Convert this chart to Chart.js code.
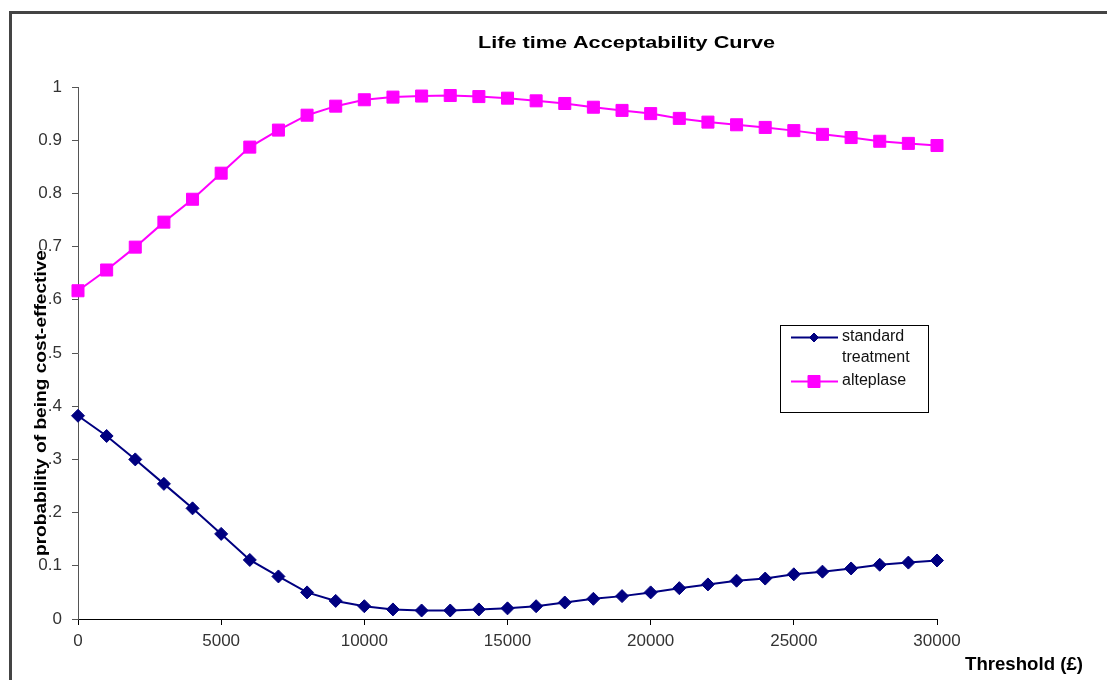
<!DOCTYPE html>
<html>
<head>
    <title>Life time Acceptability Curve</title>
    <meta http-equiv="content-type" content="text/html; charset=UTF-8"/>
    <script src="https://cdn.jsdelivr.net/npm/chart.js"></script>
    <style>
        html, body {
            margin: 0;
            padding: 0;
            background: #ffffff;
        }
        #canvas {
            display: block;
        }
    </style>
</head>
<body>
<canvas id="canvas" width="1107" height="680"></canvas>
<script>
    // values
    var thresholds = [0, 1000, 2000, 3000, 4000, 5000, 6000, 7000, 8000, 9000, 10000,
        11000, 12000, 13000, 14000, 15000, 16000, 17000, 18000, 19000, 20000,
        21000, 22000, 23000, 24000, 25000, 26000, 27000, 28000, 29000, 30000];
    var standardTreatment = [0.382, 0.344, 0.300, 0.254, 0.208, 0.160, 0.111, 0.080, 0.050, 0.034, 0.024,
        0.018, 0.016, 0.016, 0.018, 0.020, 0.024, 0.031, 0.038, 0.043, 0.050,
        0.058, 0.065, 0.072, 0.076, 0.084, 0.089, 0.095, 0.102, 0.106, 0.110];
    var alteplase = [0.617, 0.656, 0.699, 0.746, 0.789, 0.838, 0.887, 0.919, 0.947, 0.964, 0.976,
        0.981, 0.983, 0.984, 0.982, 0.979, 0.974, 0.969, 0.962, 0.956, 0.950,
        0.941, 0.934, 0.929, 0.924, 0.918, 0.911, 0.905, 0.898, 0.894, 0.890];
    var seriesNames = ['standard treatment', 'alteplase'];
    var chartTitle = 'Life time Acceptability Curve';
    var xTitle = 'Threshold (£)';
    var yTitle = 'probability of being cost-effective';

    function toPoints(values) {
        var pts = [];
        for (var i = 0; i < thresholds.length; i++) {
            pts.push({ x: thresholds[i], y: values[i] });
        }
        return pts;
    }

    // text squeezed/stretched along its length to fit the width seen in the picture
    function fitText(ctx, text, font, x, y, width, align) {
        ctx.save();
        ctx.font = font;
        var w = ctx.measureText(text).width;
        var s = width / w;
        ctx.translate(x, y);
        ctx.scale(s, 1);
        ctx.textAlign = align;
        ctx.textBaseline = 'alphabetic';
        ctx.fillText(text, 0, 0);
        ctx.restore();
    }

    var decorPlugin = {
        id: 'decor',
        beforeDraw: function(chart) {
            var ctx = chart.ctx;
            ctx.save();
            ctx.fillStyle = '#ffffff';
            ctx.fillRect(0, 0, chart.width, chart.height);
            ctx.restore();
        },
        afterDraw: function(chart) {
            var ctx = chart.ctx;
            ctx.save();

            // outer frame (only top and left visible)
            ctx.strokeStyle = '#444444';
            ctx.lineWidth = 3;
            ctx.beginPath();
            ctx.moveTo(10.5, 680);
            ctx.lineTo(10.5, 12.5);
            ctx.lineTo(1107, 12.5);
            ctx.stroke();

            ctx.fillStyle = '#000000';
            fitText(ctx, chartTitle, 'bold 17px "Liberation Sans", Arial, sans-serif', 626.5, 48, 297, 'center');
            fitText(ctx, xTitle, 'bold 18px "Liberation Sans", Arial, sans-serif', 965, 670, 118, 'left');

            // y title with white box over the tick labels
            ctx.fillStyle = '#ffffff';
            ctx.fillRect(32, 250, 17, 306);
            ctx.save();
            ctx.translate(46, 403);
            ctx.rotate(-Math.PI / 2);
            ctx.fillStyle = '#000000';
            fitText(ctx, yTitle, 'bold 16px "Liberation Sans", Arial, sans-serif', 0, 0, 306, 'center');
            ctx.restore();

            // legend
            ctx.fillStyle = '#ffffff';
            ctx.fillRect(780, 325, 148, 87);
            ctx.strokeStyle = '#000000';
            ctx.lineWidth = 1;
            ctx.strokeRect(780.5, 325.5, 148, 87);

            var rows = [337.5, 381.5];
            chart.data.datasets.forEach(function(ds, i) {
                var y = rows[i];
                ctx.strokeStyle = ds.borderColor;
                ctx.lineWidth = 2;
                ctx.beginPath();
                ctx.moveTo(791, y);
                ctx.lineTo(838, y);
                ctx.stroke();
                ctx.fillStyle = ds.pointBackgroundColor;
                ctx.strokeStyle = ds.pointBorderColor;
                ctx.lineWidth = 1;
                var r = i === 0 ? 4.5 : ds.pointRadius;
                Chart.helpers.drawPoint(ctx, { pointStyle: ds.pointStyle, radius: r, borderWidth: 1, rotation: 0 }, 814, y);
            });

            ctx.fillStyle = '#111111';
            ctx.font = '16px "Liberation Sans", Arial, sans-serif';
            ctx.textAlign = 'left';
            ctx.textBaseline = 'middle';
            ctx.fillText('standard', 842, 337);
            ctx.fillText('treatment', 842, 358);
            ctx.fillText(seriesNames[1], 842, 381);

            ctx.restore();
        }
    };

    var context = document.getElementById('canvas').getContext('2d');
    var myChart = new Chart(context, {
        type: 'line',
        data: {
            datasets: [
                {
                    label: seriesNames[0],
                    data: toPoints(standardTreatment),
                    borderColor: '#000080',
                    backgroundColor: '#000080',
                    borderWidth: 2,
                    pointStyle: 'rectRot',
                    pointRadius: 6.5,
                    pointBackgroundColor: '#000080',
                    pointBorderColor: '#000080',
                    pointBorderWidth: 1,
                    tension: 0,
                    clip: false
                },
                {
                    label: seriesNames[1],
                    data: toPoints(alteplase),
                    borderColor: '#ff00ff',
                    backgroundColor: '#ff00ff',
                    borderWidth: 2,
                    pointStyle: 'rect',
                    pointRadius: 8.5,
                    pointBackgroundColor: '#ff00ff',
                    pointBorderColor: '#ff00ff',
                    pointBorderWidth: 1,
                    tension: 0,
                    clip: false
                }
            ]
        },
        options: {
            responsive: false,
            animation: false,
            layout: {
                padding: { top: 87, right: 170, left: 0, bottom: 0 }
            },
            plugins: {
                legend: { display: false },
                title: { display: false },
                tooltip: { enabled: false }
            },
            scales: {
                x: {
                    type: 'linear',
                    min: 0,
                    max: 30000,
                    afterFit: function(scale) { scale.height = 61; },
                    border: { color: '#000000', width: 1 },
                    grid: { drawOnChartArea: false, tickLength: 6, color: '#000000' },
                    ticks: {
                        stepSize: 5000,
                        padding: 6,
                        color: '#333333',
                        maxRotation: 0,
                        font: { family: '"Liberation Sans", Arial, sans-serif', size: 17 },
                        callback: function(v) { return String(v); }
                    }
                },
                y: {
                    min: 0,
                    max: 1,
                    afterFit: function(scale) { scale.width = 78; },
                    border: { color: '#555555', width: 1 },
                    grid: { drawOnChartArea: false, tickLength: 6, color: '#555555' },
                    ticks: {
                        stepSize: 0.1,
                        padding: 10,
                        color: '#333333',
                        font: { family: '"Liberation Sans", Arial, sans-serif', size: 17 },
                        callback: function(v) { return String(Math.round(v * 10) / 10); }
                    }
                }
            }
        },
        plugins: [decorPlugin]
    });
</script>
</body>
</html>
